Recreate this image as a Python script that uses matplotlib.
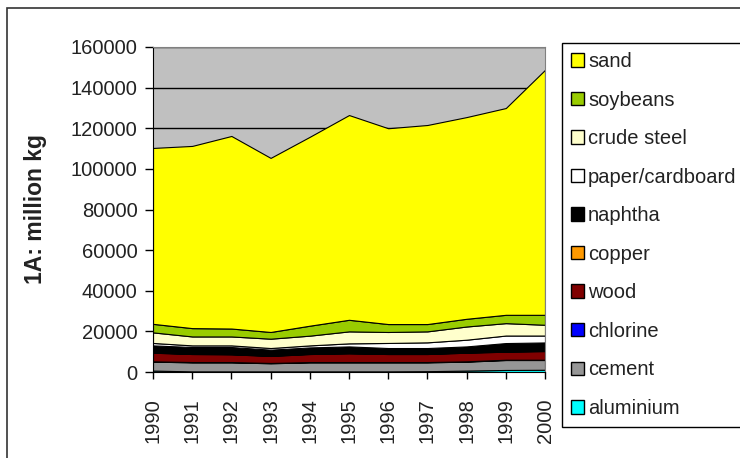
import matplotlib
matplotlib.use("Agg")
import matplotlib.pyplot as plt
from matplotlib.patches import Patch, Rectangle

plt.rcParams['font.family'] = ['Liberation Sans', 'DejaVu Sans']

years = list(range(1990, 2001))

# million kg, stacked bottom -> top
aluminium = [700, 300, 300, 300, 300, 300, 300, 400, 700, 1000, 1100]
cement = [4400, 4450, 4450, 4000, 4450, 4450, 4450, 4350, 4400, 4900, 4800]
chlorine = [150, 150, 150, 150, 150, 150, 150, 150, 150, 150, 150]
wood = [4250, 3950, 3800, 3450, 3950, 4300, 3950, 3950, 4250, 3950, 4250]
copper = [150, 150, 150, 150, 150, 150, 150, 150, 150, 150, 150]
naphtha = [3450, 3300, 3450, 2950, 3100, 3250, 2800, 2800, 2950, 4100, 4100]
paper = [1200, 800, 800, 800, 1000, 1500, 2500, 2800, 3300, 3700, 3400]
crude_steel = [5200, 4400, 4400, 4600, 4800, 5900, 5400, 5400, 6500, 6100, 5300]
soybeans = [4200, 4100, 3900, 3300, 4900, 5700, 3900, 3600, 3800, 4100, 4900]
sand = [86600, 89700, 94800, 85700, 93000, 100800, 96400, 98000, 99300, 101800, 120600]

series = [aluminium, cement, chlorine, wood, copper, naphtha, paper, crude_steel, soybeans, sand]
names = ['aluminium', 'cement', 'chlorine', 'wood', 'copper', 'naphtha',
         'paper/cardboard', 'crude steel', 'soybeans', 'sand']
colors = ['#00FFFF', '#969696', '#0000FF', '#800000', '#FF9900', '#000000',
          '#FFFFFF', '#FFFFCC', '#99CC00', '#FFFF00']

fig = plt.figure(figsize=(7.4, 4.58), dpi=100)
ax = fig.add_axes([153/740, 1-372/458, (545-153)/740, (372-47)/458])
ax.set_facecolor('#C0C0C0')

ax.stackplot(years, *series, colors=colors, edgecolor='black', linewidth=0.8)

ax.set_xlim(1990, 2000)
ax.set_ylim(0, 160000)
ax.set_yticks(range(0, 160001, 20000))
ax.set_xticks(years)
ax.set_xticklabels([str(y) for y in years], rotation=90)
ax.set_axisbelow(True)
ax.yaxis.grid(True, color='black', linewidth=1)

ax.tick_params(axis='y', direction='out', length=6, width=1, pad=5, labelsize=14.5, labelcolor='#222222')
ax.tick_params(axis='x', direction='out', length=5, width=1, pad=14, labelsize=14.5, labelcolor='#222222')
for s in ['top', 'right']:
    ax.spines[s].set_color('#808080')
for s in ['left', 'bottom']:
    ax.spines[s].set_color('black')

ax.set_ylabel('1A: million kg', fontsize=16.5, fontweight='bold', color='#222222')
ax.yaxis.set_label_coords(-(153-47)/392, 0.5)

handles = [Patch(facecolor=c, edgecolor='black', linewidth=1) for c in colors[::-1]]
leg = fig.legend(handles, names[::-1], loc='upper left',
                 bbox_to_anchor=(562/740, 1-43/458), fontsize=14.5,
                 frameon=True, fancybox=False, edgecolor='black', framealpha=1,
                 handlelength=0.65, handleheight=0.65, handletextpad=0.2,
                 labelspacing=0.97, borderpad=0.45, borderaxespad=0)
leg.get_frame().set_linewidth(1)
for t in leg.get_texts():
    t.set_color('#222222')

# outer chart frame
fig.patches.append(Rectangle((7/740, -0.1), 1.2, 1.1-7.5/458, transform=fig.transFigure,
                             fill=False, edgecolor='#333333', linewidth=1.2))

fig.savefig('out.png', dpi=100)
